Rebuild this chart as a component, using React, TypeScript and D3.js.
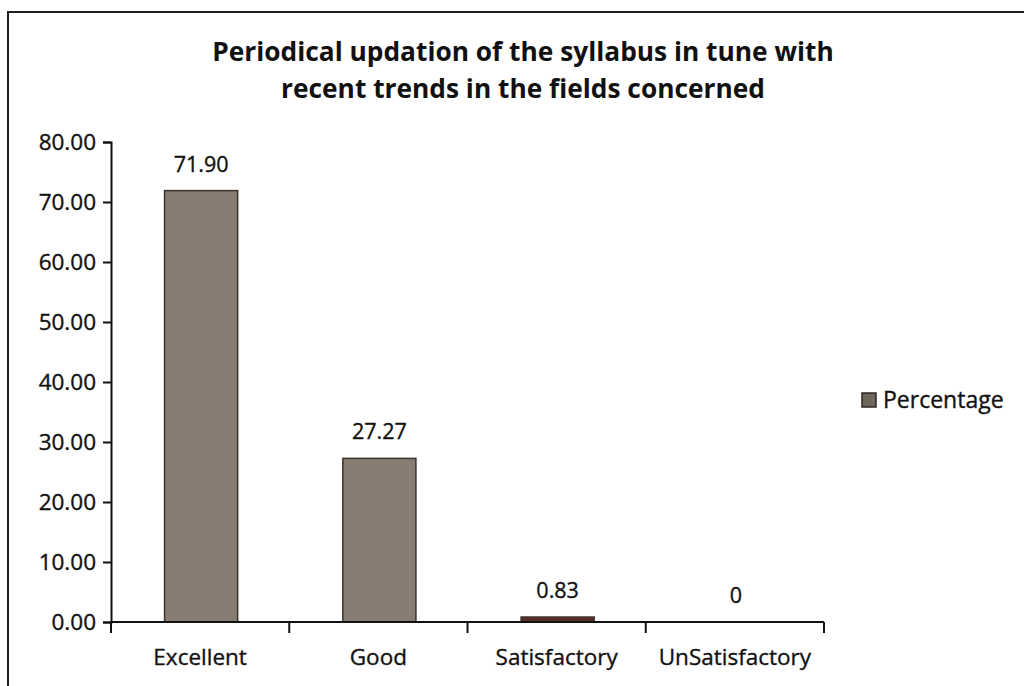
import React, { useEffect, useRef } from "react";
import * as d3 from "d3";

const categories = ["Excellent", "Good", "Satisfactory", "UnSatisfactory"];
const percentages = [71.9, 27.27, 0.83, 0];
const valueLabels = ["71.90", "27.27", "0.83", "0"];
const yTicks = [0, 10, 20, 30, 40, 50, 60, 70, 80];
const titleLines = [
  "Periodical updation of the syllabus in tune with",
  "recent trends in the fields concerned",
];
const seriesName = "Percentage";

const App = () => {
  const svgRef = useRef<SVGSVGElement>(null);

  useEffect(() => {
    const svg = d3.select(svgRef.current);
    svg.selectAll("*").remove();

    const width = 1024;
    const height = 686;
    const font = "'Open Sans', 'DejaVu Sans', sans-serif";
    const ink = "#111";

    svg.attr("width", width).attr("height", height);

    svg.append("rect")
      .attr("width", width)
      .attr("height", height)
      .attr("fill", "#ffffff");

    // outer chart frame (runs off the right and bottom of the picture)
    svg.append("rect")
      .attr("x", 8)
      .attr("y", 12)
      .attr("width", width + 20)
      .attr("height", height + 20)
      .attr("fill", "none")
      .attr("stroke", "#1e1e1e")
      .attr("stroke-width", 2);

    // title
    svg.append("text")
      .attr("x", 523)
      .attr("y", 61)
      .attr("text-anchor", "middle")
      .style("font-family", font)
      .style("font-weight", "bold")
      .style("font-size", "26.3px")
      .attr("fill", ink)
      .selectAll("tspan")
      .data(titleLines)
      .join("tspan")
        .attr("x", 523)
        .attr("dy", (_d, i) => (i === 0 ? 0 : 37))
        .text(d => d);

    const plot = { left: 111, right: 824, top: 142, bottom: 622 };

    const x = d3.scaleBand<string>()
      .domain(categories)
      .range([plot.left, plot.right])
      .paddingInner(0.59)
      .paddingOuter(0.295);

    const y = d3.scaleLinear()
      .domain([0, 80])
      .range([plot.bottom, plot.top]);

    // y axis
    const yAxis = svg.append("g")
      .attr("transform", `translate(${plot.left},0)`)
      .call(d3.axisLeft(y).tickValues(yTicks).tickFormat(d3.format(".2f")).tickSizeOuter(0).tickSize(8).tickPadding(7));
    yAxis.select(".domain").attr("stroke", ink).attr("stroke-width", 2);
    yAxis.selectAll(".tick line").attr("stroke", ink).attr("stroke-width", 2);
    yAxis.selectAll(".tick text")
      .style("font-family", font)
      .style("font-size", "22.5px")
      .attr("fill", ink)
      .attr("stroke", ink)
      .attr("stroke-width", 0.35);

    // bars
    svg.append("g")
      .selectAll("rect")
      .data(percentages)
      .join("rect")
        .attr("x", (_d, i) => x(categories[i])! + 1)
        .attr("y", d => y(d))
        .attr("width", x.bandwidth())
        .attr("height", d => y(0) - y(d))
        .attr("fill", d => (d < 2 ? "#5a2f28" : "#877d72"))
        .attr("stroke", d => (d > 0 ? "#3c332b" : "none"))
        .attr("stroke-width", 1.5);

    // value labels
    svg.append("g")
      .selectAll("text")
      .data(percentages)
      .join("text")
        .attr("x", (_d, i) => x(categories[i])! + x.bandwidth() / 2 + 1)
        .attr("y", d => y(d) - 19)
        .attr("text-anchor", "middle")
        .style("font-family", font)
        .style("font-size", "21.5px")
        .attr("fill", ink)
        .attr("stroke", ink)
        .attr("stroke-width", 0.35)
        .text((_d, i) => valueLabels[i]);

    // x axis
    const step = x.step();
    const boundaries = d3.range(categories.length + 1).map(i => plot.left + i * step);
    const xAxis = svg.append("g");
    xAxis.append("line")
      .attr("x1", plot.left)
      .attr("x2", plot.right)
      .attr("y1", y(0))
      .attr("y2", y(0))
      .attr("stroke", ink)
      .attr("stroke-width", 2);
    xAxis.selectAll(".xt")
      .data(boundaries)
      .join("line")
        .attr("class", "xt")
        .attr("x1", d => d)
        .attr("x2", d => d)
        .attr("y1", y(0))
        .attr("y2", y(0) + 11)
        .attr("stroke", ink)
        .attr("stroke-width", 2);
    xAxis.selectAll(".xl")
      .data(categories)
      .join("text")
        .attr("class", "xl")
        .attr("x", d => x(d)! + x.bandwidth() / 2)
        .attr("y", 665)
        .attr("text-anchor", "middle")
        .style("font-family", font)
        .style("font-size", "22.5px")
        .attr("fill", ink)
        .attr("stroke", ink)
        .attr("stroke-width", 0.35)
        .text(d => d);

    // legend
    const legend = svg.append("g").attr("transform", "translate(862,393)");
    legend.append("rect")
      .attr("width", 14)
      .attr("height", 14)
      .attr("fill", "#6f665c")
      .attr("stroke", "#2c2621")
      .attr("stroke-width", 1.5);
    legend.append("text")
      .attr("x", 21)
      .attr("y", 15)
      .style("font-family", font)
      .style("font-size", "23px")
      .attr("fill", ink)
      .attr("stroke", ink)
      .attr("stroke-width", 0.35)
      .text(seriesName);
  }, []);

  return (
    <svg
      ref={svgRef}
      style={{ position: "absolute", left: 0, top: 0, display: "block" }}
    ></svg>
  );
};

export default App;
